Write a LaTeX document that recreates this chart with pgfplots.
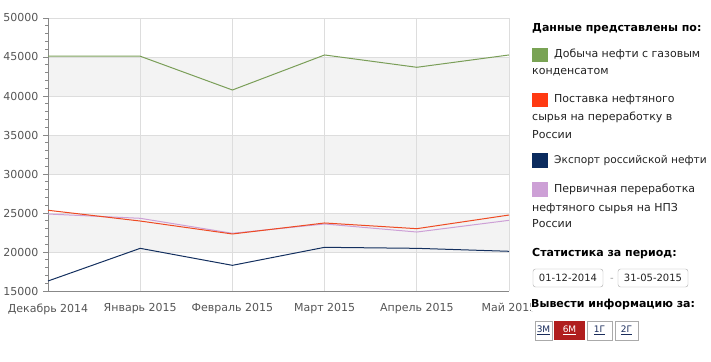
\documentclass[border=0pt]{standalone}
\usepackage{pgfplots}
\pgfplotsset{compat=1.18}
\usepackage{fontspec}
\setmainfont{DejaVu Sans}
\definecolor{cgreen}{HTML}{7A9E58}
\definecolor{sqgreen}{HTML}{79A354}
\definecolor{cred}{HTML}{EE4A22}
\definecolor{sqred}{HTML}{FF3A12}
\definecolor{cnavy}{HTML}{14305F}
\definecolor{sqnavy}{HTML}{0B2B5E}
\definecolor{cpink}{HTML}{CDA0D6}
\definecolor{band}{HTML}{F3F3F3}
\definecolor{gridc}{HTML}{DDDDDD}
\definecolor{axc}{HTML}{888888}
\definecolor{lab}{HTML}{555555}
\definecolor{txt}{HTML}{222222}
\definecolor{btn}{HTML}{1A2C5B}
\definecolor{btnred}{HTML}{B01E1E}
\definecolor{boxc}{HTML}{AAAAAA}
\begin{document}
\begin{tikzpicture}[x=1pt,y=1pt]
\begin{axis}[
  at={(48pt,70pt)}, anchor=south west,
  scale only axis, width=461pt, height=273pt,
  set layers,
  xmin=0, xmax=5, ymin=15000, ymax=50000,
  xtick={0,1,2,3,4,5},
  xticklabels={Декабрь 2014,Январь 2015,Февраль 2015,Март 2015,Апрель 2015,Май 2015},
  ytick={15000,20000,...,50000},
  minor y tick num=4,
  scaled y ticks=false,
  /pgf/number format/1000 sep={},
  /pgf/number format/assume math mode=true,
  axis x line*=bottom, axis y line*=left,
  axis line style={draw=axc, line width=0.8pt},
  x axis line style={-}, y axis line style={-},
  tick align=outside,
  major tick length=5pt, minor tick length=3pt,
  x tick style={draw=none},
  y tick style={draw=axc, line width=0.7pt},
  xmajorgrids, ymajorgrids,
  major grid style={draw=gridc, line width=0.8pt},
  ticklabel style={font=\fontsize{11}{13}\selectfont, text=lab},
  yticklabel style={xshift=-1pt},
  xticklabel style={yshift=-4pt},
  clip=false,
]
\addplot[draw=none, fill=band, on layer=axis background, forget plot] coordinates {(0,20000) (5,20000) (5,25000) (0,25000)} -- cycle;
\addplot[draw=none, fill=band, on layer=axis background, forget plot] coordinates {(0,30000) (5,30000) (5,35000) (0,35000)} -- cycle;
\addplot[draw=none, fill=band, on layer=axis background, forget plot] coordinates {(0,40000) (5,40000) (5,45000) (0,45000)} -- cycle;
\addplot[cgreen, line width=1pt] coordinates {(0,45100) (1,45100) (2,40770) (3,45260) (4,43680) (5,45260)};
\addplot[cpink, line width=1pt] coordinates {(0,24870) (1,24320) (2,22400) (3,23590) (4,22560) (5,24060)};
\addplot[cred, line width=1pt] coordinates {(0,25350) (1,23970) (2,22310) (3,23720) (4,22990) (5,24740)};
\addplot[cnavy, line width=1pt] coordinates {(0,16280) (1,20470) (2,18290) (3,20600) (4,20470) (5,20090)};
\end{axis}
\path[use as bounding box] (0,0) rectangle (711,361);
% legend panel
\tikzset{lt/.style={anchor=base west, inner sep=0pt, text=txt, font=\fontsize{11}{13}\selectfont},
         hd/.style={anchor=base west, inner sep=0pt, text=black, font=\fontsize{11}{13}\selectfont\bfseries},
         bt/.style={font=\fontsize{9}{11}\selectfont, inner sep=0pt}}
\node[hd] at (532,361-32) {Данные представлены по:};
\fill[sqgreen] (532,361-48) rectangle (548,361-62);
\node[lt] at (554,361-58) {Добыча нефти с газовым};
\node[lt] at (532,361-75) {конденсатом};
\fill[sqred] (532,361-93) rectangle (548,361-107);
\node[lt] at (554,361-103) {Поставка нефтяного};
\node[lt] at (532,361-121) {сырья на переработку в};
\node[lt] at (532,361-139) {России};
\fill[sqnavy] (532,361-153) rectangle (548,361-168);
\node[lt, font=\fontsize{10.6}{13}\selectfont] at (554,361-164) {Экспорт российской нефти};
\fill[cpink] (532,361-182) rectangle (548,361-197);
\node[lt] at (554,361-193) {Первичная переработка};
\node[lt] at (532,361-212) {нефтяного сырья на НПЗ};
\node[lt] at (532,361-228) {России};
\node[hd] at (532,361-257) {Статистика за период:};
\draw[boxc, rounded corners=2.5pt] (533,361-269) rectangle (603,361-287);
\node[text=txt, font=\fontsize{10}{12}\selectfont, inner sep=0pt] at (568,361-278) {01-12-2014};
\node[text=lab!60, font=\fontsize{10}{12}\selectfont, inner sep=0pt] at (612,361-280) {-};
\draw[boxc, rounded corners=2.5pt] (618,361-269) rectangle (688,361-287);
\node[text=txt, font=\fontsize{10}{12}\selectfont, inner sep=0pt] at (653,361-278) {31-05-2015};
\node[hd, fill=white, inner xsep=0pt, inner ysep=1pt] at (531,361-308) {Вывести информацию за:};
\draw[boxc] (535,361-321) rectangle (552,361-340);
\node[bt, text=btn] at (543.5,361-330.5) {\underline{3М}};
\fill[btnred] (554,361-321) rectangle (585,361-340);
\node[bt, text=white] at (569.5,361-330.5) {\underline{6М}};
\draw[boxc] (587,361-321) rectangle (612,361-340);
\node[bt, text=btn] at (599.5,361-330.5) {\underline{1Г}};
\draw[boxc] (615,361-321) rectangle (638,361-340);
\node[bt, text=btn] at (626.5,361-330.5) {\underline{2Г}};
\end{tikzpicture}
\end{document}
